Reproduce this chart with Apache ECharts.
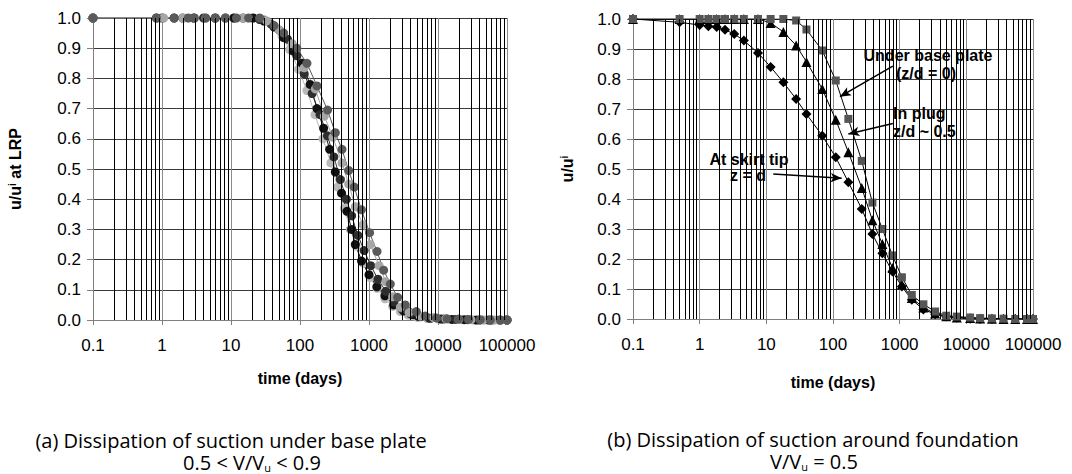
<!DOCTYPE html>
<html><head><meta charset="utf-8">
<script src="https://cdn.jsdelivr.net/npm/echarts@6/dist/echarts.min.js"></script>
<style>html,body{margin:0;padding:0;background:#fff}#c{width:1072px;height:474px}</style>
</head><body><div id="c"></div>
<script>
// ---------- axis tick labels ----------
const tickLabels = ['0.1', '1', '10', '100', '1000', '10000', '100000'];
const decadeStarts = [0.1, 1, 10, 100, 1000, 10000];
const minorMultipliers = [2, 3, 4, 5, 6, 7, 8, 9];

// ---------- chart (a): 0.5 < V/Vu < 0.9, five runs ----------
const runL1Times = [0.1,1.05,3.0,6,11,20,30,42,55,71,95,126,165,215,280,351,440,536,650,818,1040,1306,1700,2200,2845,3700,5000,7000,10000,15000,22000,33000,50000,75000,100000];
const runL1Values = [1,1,1,1,1,1,0.995,0.975,0.94,0.895,0.83,0.76,0.68,0.60,0.52,0.44,0.37,0.30,0.245,0.188,0.14,0.105,0.07,0.045,0.028,0.016,0.009,0.005,0.003,0.002,0.001,0,0,0,0];

const runK2Times = [0.1,0.83,1.5,2.9,5.9,11,21,30,42,58,80,107,140,176,220,269,325,400,479,560,633,780,1000,1300,1700,2280,3170,4300,5250,7500,11000,16000,24000,36000,55000,80000,100000];
const runK2Values = [1,1,1,1,1,1,1,0.99,0.97,0.935,0.89,0.85,0.78,0.70,0.635,0.565,0.49,0.42,0.36,0.30,0.25,0.195,0.15,0.11,0.08,0.05,0.03,0.017,0.011,0.006,0.003,0.002,0.001,0,0,0,0];

const runK1Times = [0.1,1,2,4,8.3,15,26,38,50,66,90,115,150,195,250,310,385,470,560,690,850,1060,1350,1750,2300,3000,4000,5600,8000,12000,18000,27000,40000,60000,100000];
const runK1Values = [1,1,1,1,1,1,0.995,0.98,0.96,0.93,0.875,0.815,0.75,0.68,0.61,0.54,0.465,0.40,0.345,0.28,0.23,0.18,0.135,0.095,0.06,0.036,0.02,0.011,0.006,0.003,0.002,0.001,0,0,0];

const runL2Times = [0.1,1.05,2.0,4.3,8.3,15,33,50,77,115,167,225,300,406,507,633,818,1044,1400,1750,2200,2845,3800,5500,8640,13000,20000,30000,45000,65000,100000];
const runL2Values = [1,1,1,1,1,1,0.99,0.96,0.915,0.835,0.765,0.675,0.605,0.52,0.45,0.375,0.315,0.25,0.18,0.127,0.077,0.042,0.025,0.013,0.008,0.004,0.002,0.001,0,0,0];

const runDTimes = [0.1,0.83,1.5,2.4,2.9,4.3,5.9,8.3,12,18,26,42,58,90,126,176,251,325,406,507,612,775,1020,1306,1630,2036,2600,3360,4850,6550,9500,13500,19900,27800,41000,57300,80000,100000];
const runDValues = [1,1,1,1,1,1,1,1,1,1,1,0.975,0.95,0.90,0.85,0.775,0.695,0.62,0.565,0.495,0.44,0.365,0.289,0.227,0.165,0.119,0.075,0.05,0.028,0.013,0.007,0.004,0.003,0.002,0.001,0,0,0];

// ---------- chart (b): V/Vu = 0.5 ----------
const timesB = [0.1,0.5,1,1.35,1.8,2.4,3.3,4.6,7.5,11.6,18,28,40,69,110,170,270,390,550,780,1080,1520,2270,3400,5000,7200,11400,16100,24200,36100,54200,81300,100000];
const skirtTipValues = [1.0,0.989,0.98,0.976,0.973,0.964,0.95,0.928,0.887,0.84,0.789,0.733,0.683,0.611,0.539,0.456,0.367,0.283,0.219,0.158,0.108,0.064,0.032,0.016,0.008,0.004,0.001,0,0,0,0,0,0];
const inPlugValues = [1,1,1,1,1,1,1,1,1,0.987,0.957,0.912,0.857,0.767,0.664,0.556,0.437,0.329,0.25,0.17,0.115,0.07,0.038,0.018,0.009,0.005,0.003,0.002,0.001,0,0,0,0];
const basePlateValues = [1,1,1,1,1,1,1,1,1,1,1,0.995,0.965,0.895,0.795,0.667,0.527,0.388,0.30,0.212,0.139,0.08,0.049,0.025,0.011,0.008,0.005,0.003,0.002,0.001,0,0,0];

// annotation arrows (data coordinates): [tail, head]
const arrowBasePlate = [[789, 0.843], [127, 0.741]];
const arrowInPlug = [[789, 0.652], [170, 0.617]];
const arrowSkirtTip = [[12.7, 0.483], [135, 0.469]];

// ---------- build ----------
const pairs = (xs, ys) => xs.map((x, i) => [x, ys[i]]);
const minorLines = [];
decadeStarts.forEach(d => minorMultipliers.forEach(m => minorLines.push({ xAxis: +(d * m).toPrecision(6) })));

const axisFont = '"Liberation Sans", Arial, sans-serif';
const capFont = '"Open Sans", "Noto Sans", sans-serif';

function xAxisCfg(gridIndex, gap) {
  return {
    type: 'log', logBase: 10, gridIndex, min: 0.1, max: 100000, splitNumber: 6,
    name: 'time (days)', nameLocation: 'middle', nameGap: gap,
    nameTextStyle: { fontFamily: axisFont, fontWeight: 'bold', fontSize: 16, color: '#000' },
    axisLine: { show: true, onZero: false, lineStyle: { color: '#808080', width: 1 } },
    axisTick: { show: true, inside: false, length: 5, lineStyle: { color: '#808080' } },
    axisLabel: { fontFamily: axisFont, fontSize: 17, color: '#000', margin: 17,
      formatter: v => tickLabels[Math.round(Math.log10(v)) + 1] },
    splitLine: { show: true, lineStyle: { color: '#8a8a8a', width: 1 } },
    minorTick: { show: false }, minorSplitLine: { show: false }
  };
}
function yAxisCfg(gridIndex, nameText, gap) {
  return {
    type: 'value', gridIndex, min: 0, max: 1, interval: 0.1,
    name: nameText, nameLocation: 'middle', nameRotate: 90, nameGap: gap,
    nameTextStyle: { fontFamily: axisFont, fontWeight: 'bold', fontSize: 16, color: '#000',
      rich: { sup: { fontFamily: axisFont, fontWeight: 'bold', fontSize: 10, color: '#000', verticalAlign: 'top' } } },
    axisLine: { show: true, lineStyle: { color: '#808080' } },
    axisTick: { show: true, inside: false, length: 6, lineStyle: { color: '#808080' } },
    axisLabel: { fontFamily: axisFont, fontSize: 17, color: '#000', margin: 12, formatter: v => v.toFixed(1) },
    splitLine: { show: true, lineStyle: { color: '#3a3a3a', width: 1 } }
  };
}
function gridSeries(idx) {
  return {
    type: 'line', xAxisIndex: idx, yAxisIndex: idx, data: [], silent: true, z: 1,
    markLine: { symbol: ['none', 'none'], silent: true, animation: false, label: { show: false },
      lineStyle: { color: '#000', width: 1, type: 'solid' }, emphasis: { disabled: true }, data: minorLines }
  };
}
function runSeries(name, xs, ys, color) {
  return {
    name, type: 'line', xAxisIndex: 0, yAxisIndex: 0, data: pairs(xs, ys),
    symbol: 'circle', symbolSize: 9, showAllSymbol: true,
    itemStyle: { color }, lineStyle: { color, width: 1 }, z: 3
  };
}
function bSeries(name, ys, symbol, size, color) {
  return {
    name, type: 'line', xAxisIndex: 1, yAxisIndex: 1, data: pairs(timesB, ys),
    symbol, symbolSize: size, showAllSymbol: true,
    itemStyle: { color }, lineStyle: { color: '#000', width: 1 }, z: 3
  };
}
function arrow(pair) {
  return [{ coord: pair[0], symbol: 'none' }, { coord: pair[1], symbol: 'arrow', symbolSize: [7, 11] }];
}
const annoStyle = (t, x, y, align) => ({
  type: 'text', silent: true, z: 10,
  style: { text: t, x, y, font: 'bold 16px ' + axisFont, fill: '#000', lineHeight: 16,
    align, textAlign: align, verticalAlign: 'middle', textVerticalAlign: 'middle' }
});
const capStyle = (t, x, y) => ({
  type: 'text', silent: true,
  style: { text: t, x, y, font: '20px ' + capFont, fill: '#000', lineHeight: 21,
    align: 'center', textAlign: 'center', verticalAlign: 'middle', textVerticalAlign: 'middle',
    rich: { sub: { fontSize: 11, fontFamily: capFont, fill: '#000', lineHeight: 21, verticalAlign: 'bottom' } } }
});

const option = {
  animation: false,
  backgroundColor: '#fff',
  grid: [
    { left: 93, top: 18, width: 414, height: 302 },
    { left: 633, top: 19, width: 400, height: 300 }
  ],
  xAxis: [xAxisCfg(0, 50), xAxisCfg(1, 55)],
  yAxis: [yAxisCfg(0, 'u/u{sup|i} at LRP', 70), yAxisCfg(1, 'u/u{sup|i}', 58)],
  series: [
    gridSeries(0), gridSeries(1),
    runSeries('run 1', runL1Times, runL1Values, '#b9b9b9'),
    runSeries('run 2', runK2Times, runK2Values, '#111111'),
    runSeries('run 3', runK1Times, runK1Values, '#2e2e2e'),
    runSeries('run 4', runL2Times, runL2Values, '#a6a6a6'),
    runSeries('run 5', runDTimes, runDValues, '#5a5a5a'),
    bSeries('At skirt tip', skirtTipValues, 'diamond', 10, '#000'),
    bSeries('In plug', inPlugValues, 'triangle', 10, '#000'),
    bSeries('Under base plate', basePlateValues, 'rect', 8, '#555'),
    {
      type: 'line', xAxisIndex: 1, yAxisIndex: 1, data: [], silent: true, z: 5,
      markLine: { silent: true, animation: false, label: { show: false }, emphasis: { disabled: true },
        lineStyle: { color: '#000', width: 1.5, type: 'solid' },
        itemStyle: { color: '#000' },
        data: [arrow(arrowBasePlate), arrow(arrowInPlug), arrow(arrowSkirtTip)] }
    }
  ],
  graphic: [
    annoStyle('Under base plate', 928, 55, 'center'),
    annoStyle('(z/d = 0)', 926, 73, 'center'),
    annoStyle('In plug', 893, 113, 'left'),
    annoStyle('z/d ~ 0.5', 893, 131, 'left'),
    annoStyle('At skirt tip', 749, 159, 'center'),
    annoStyle('z = d', 748, 175, 'center'),
    capStyle('(a) Dissipation of suction under base plate', 231, 440),
    capStyle('0.5 < V/V{sub|u} < 0.9', 252, 462),
    capStyle('(b) Dissipation of suction around foundation', 813, 439),
    capStyle('V/V{sub|u} = 0.5', 814, 461)
  ]
};
const chart = echarts.init(document.getElementById('c'), null, { renderer: 'svg' });
chart.setOption(option);
</script>
</body></html>
